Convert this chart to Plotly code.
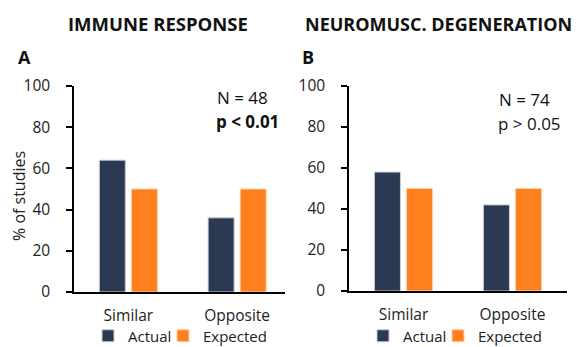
import plotly.graph_objects as go

categories = ["Similar", "Opposite"]
immune_actual = [64, 36]
immune_expected = [50, 50]
neuro_actual = [58, 42]
neuro_expected = [50, 50]
y_ticks = [0, 20, 40, 60, 80, 100]

NAVY = "#2B3A52"
ORANGE = "#FF7F1F"
FONT = "Open Sans"
TXT = "#222222"
W, H = 577, 347

def px(x):
    return x / W

def py(y):
    return 1 - y / H

fig = go.Figure()
bar_line_n = dict(color="#c8ccd2", width=1)
bar_line_o = dict(color="#ffd0a8", width=1)
fig.add_trace(go.Bar(x=categories, y=immune_actual, name="Actual", marker=dict(color=NAVY, line=bar_line_n),
                     xaxis="x", yaxis="y", legend="legend"))
fig.add_trace(go.Bar(x=categories, y=immune_expected, name="Expected", marker=dict(color=ORANGE, line=bar_line_o),
                     xaxis="x", yaxis="y", legend="legend2"))
fig.add_trace(go.Bar(x=categories, y=neuro_actual, name="Actual", marker=dict(color=NAVY, line=bar_line_n),
                     xaxis="x2", yaxis="y2", legend="legend3"))
fig.add_trace(go.Bar(x=categories, y=neuro_expected, name="Expected", marker=dict(color=ORANGE, line=bar_line_o),
                     xaxis="x2", yaxis="y2", legend="legend4"))

xaxis_common = dict(showline=True, linecolor="black", linewidth=1.5, ticks="", showgrid=False, automargin=False,
                    tickfont=dict(family=FONT, size=15.5, color=TXT), ticklabelstandoff=9, fixedrange=True)
yaxis_common = dict(showline=True, linecolor="black", linewidth=1.5, ticks="outside", ticklen=6, tickwidth=1.5,
                    tickcolor="black", showgrid=False, zeroline=False, range=[0, 100], tickvals=y_ticks,
                    automargin=False, fixedrange=True,
                    tickfont=dict(family=FONT, size=15.5, color=TXT), ticklabelstandoff=13)

legend_common = dict(orientation="h", yanchor="middle", xanchor="left", itemwidth=30, y=py(336),
                     font=dict(family=FONT, size=15, color=TXT), bgcolor="rgba(0,0,0,0)",
                     borderwidth=0, itemclick=False, itemdoubleclick=False)

fig.update_layout(
    width=W, height=H, margin=dict(l=0, r=0, t=0, b=0, pad=0, autoexpand=False),
    paper_bgcolor="white", plot_bgcolor="white",
    barmode="group", bargap=0.41, bargroupgap=0.19,
    font=dict(family=FONT, color=TXT),
    xaxis=dict(domain=[px(74), px(285)], anchor="y", range=[-0.5, 1.44], **xaxis_common),
    yaxis=dict(domain=[py(292), py(86)], anchor="x", **yaxis_common),
    xaxis2=dict(domain=[px(349), px(567)], anchor="y2", range=[-0.5, 1.5], **xaxis_common),
    yaxis2=dict(domain=[py(291), py(86)], anchor="x2", **yaxis_common),
    legend=dict(x=px(88), **legend_common),
    legend2=dict(x=px(163), **legend_common),
    legend3=dict(x=px(363), **legend_common),
    legend4=dict(x=px(438), **legend_common),
    showlegend=True,
)

anns = [
    dict(text="<b>IMMUNE RESPONSE</b>", x=px(158), y=py(24), size=18.5),
    dict(text="<b>NEUROMUSC. DEGENERATION</b>", x=px(438), y=py(24), size=18),
    dict(text="<b>A</b>", x=px(24), y=py(57), size=18),
    dict(text="<b>B</b>", x=px(308), y=py(57), size=18),
    dict(text="N = 48", x=px(242), y=py(97), size=17),
    dict(text="<b>p < 0.01</b>", x=px(247), y=py(121), size=17),
    dict(text="N = 74", x=px(524), y=py(99), size=17),
    dict(text="p > 0.05", x=px(529), y=py(123), size=17),
]
for a in anns:
    fig.add_annotation(text=a["text"], x=a["x"], y=a["y"], xref="paper", yref="paper",
                       xanchor="center", yanchor="middle", showarrow=False,
                       font=dict(family=FONT, size=a["size"], color="#111111"))
fig.add_annotation(text="% of studies", x=px(19), y=py(196), xref="paper", yref="paper",
                   textangle=-90, showarrow=False, xanchor="center", yanchor="middle",
                   font=dict(family=FONT, size=16, color=TXT))

fig.write_html("out.html", config={"displayModeBar": False},
               post_script="document.body.style.margin='0';document.body.style.overflow='hidden';")
